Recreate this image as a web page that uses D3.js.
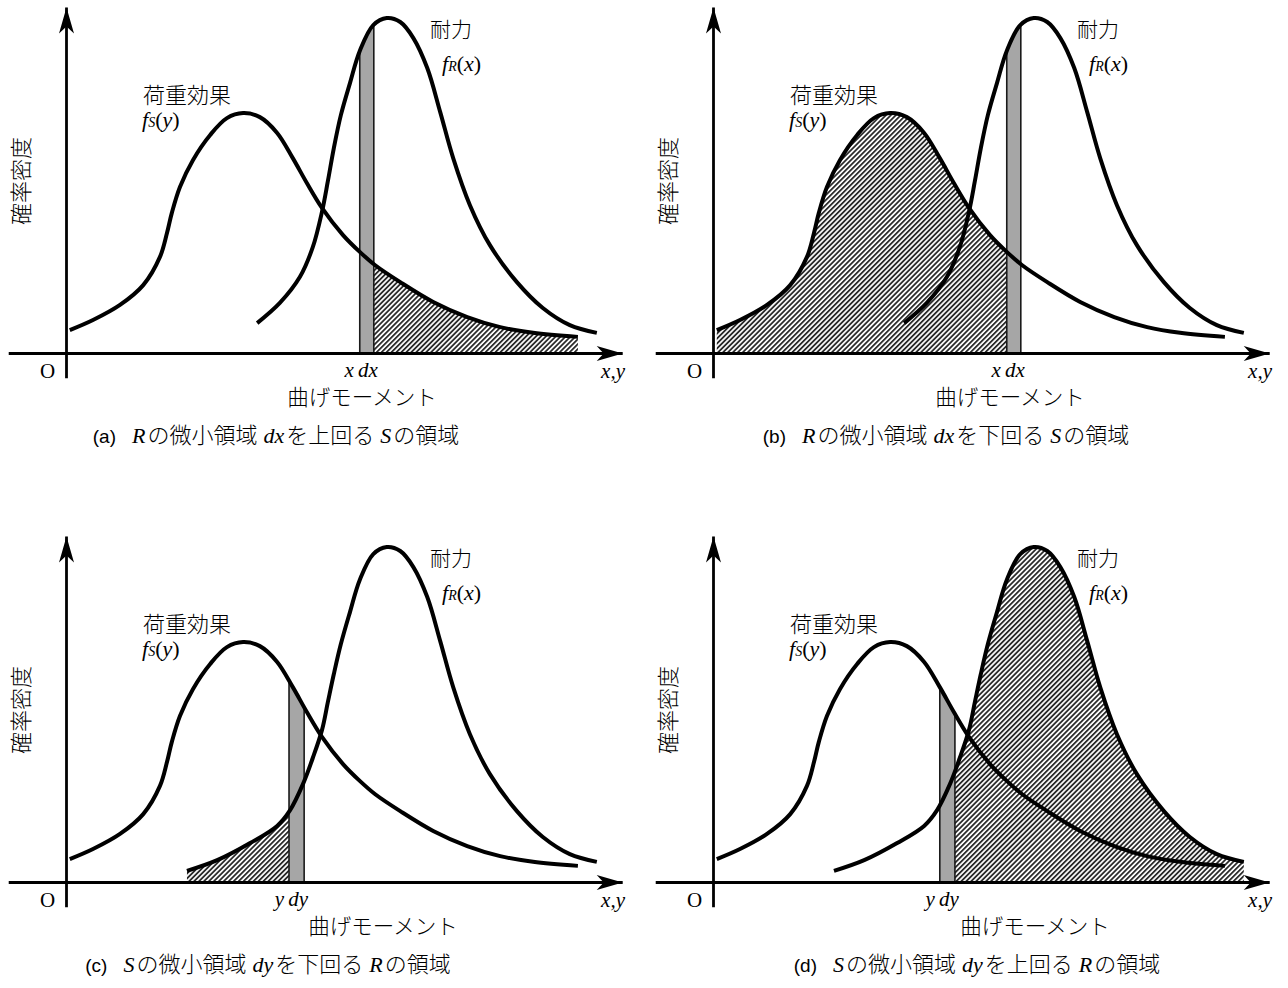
<!DOCTYPE html>
<html lang="ja">
<head>
<meta charset="utf-8">
<style>
  body { margin: 0; background: #fff; }
  svg { display: block; }
  .jp { font-family: 'Noto Sans CJK JP', sans-serif; font-weight: 300; }
  .lat { font-family: 'Liberation Serif', 'DejaVu Serif', serif; }
  .it { font-style: italic; }
</style>
</head>
<body>
<div id="chart"></div>
<script src="https://cdn.jsdelivr.net/npm/d3@7/dist/d3.min.js"></script>
<script>
// 荷重効果 fS(y) (横: 曲げモーメント 0-100, 縦: 確率密度 0-100)
const fsX = [0.7, 5.0, 10.0, 14.3, 17.4, 18.7, 19.6, 21.1, 23.5, 26.7, 29.8, 32.8, 35.9,
             39.1, 42.0, 44.6, 47.4, 51.3, 54.4, 57.2, 61.9, 68.0, 74.3, 80.4, 86.5, 94.8];
const fsY = [6.8, 9.8, 14.3, 20.2, 28.6, 35.7, 41.7, 49.4, 57.4, 64.9, 69.9, 71.4, 70.2,
             65.5, 58.0, 50.6, 43.2, 35.1, 30.1, 26.2, 21.1, 15.2, 10.7, 7.7, 6.0, 4.8];

// 耐力 fR(x) : (a)(b) の曲線
const frX = [35.4, 39.6, 43.3, 45.7, 47.4, 48.5, 49.6, 50.9, 52.6, 54.4, 56.9, 59.4,
             61.9, 64.3, 66.9, 69.3, 71.7, 74.8, 78.5, 83.5, 88.3, 93.3, 98.3];
const frY = [8.9, 14.9, 22.6, 31.5, 42.0, 51.2, 61.0, 70.8, 80.4, 89.9, 97.6, 99.7,
             98.5, 93.8, 84.8, 71.7, 58.0, 44.0, 32.1, 21.1, 13.4, 8.3, 6.0];

// 耐力 fR(x) : (c)(d) の曲線 (左の裾が長い)
const frLongX = [22.4, 28.0, 34.1, 39.1, 41.5, 43.9, 45.7, 47.4, 48.5, 49.6, 50.9, 52.6,
                 54.4, 56.9, 59.4, 61.9, 64.3, 66.9, 69.3, 71.7, 74.8, 78.5, 83.5, 88.3, 93.3, 98.3];
const frLongY = [3.3, 6.5, 11.6, 16.7, 21.4, 29.2, 36.9, 45.2, 53.6, 61.9, 70.8, 80.4,
                 89.9, 97.6, 99.7, 98.5, 93.8, 84.8, 71.7, 58.0, 44.0, 32.1, 21.1, 13.4, 8.3, 6.0];

// 微小領域と斜線部
const stripFrom = [54.4, 54.4, 41.3, 42.0];
const stripTo   = [57.0, 57.0, 44.1, 44.8];
const hatchFrom = [57.0, 0, 0, 44.8];
const hatchTo   = [100, 54.4, 41.3, 100];
const stripCurve = ['R', 'R', 'S', 'S'];
const hatchCurve = ['S', 'S', 'R', 'R'];

// 文字
const markVar = ['x', 'x', 'y', 'y'];
const markDiff = ['dx', 'dx', 'dy', 'dy'];
const captionTag = ['(a)', '(b)', '(c)', '(d)'];
const captionVar = ['R', 'R', 'S', 'S'];
const captionVerb = ['を上回る', 'を下回る', 'を下回る', 'を上回る'];
const captionOther = ['S', 'S', 'R', 'R'];

const W = 1288, H = 988;
const origins = [[66, 353], [713, 353], [66, 882], [713, 882]];
const xLabelCenter = [296, 297, 317, 322];
const captionCenter = [276, 946, 268, 977];

const svg = d3.select('#chart').append('svg')
    .attr('width', W).attr('height', H)
    .attr('viewBox', `0 0 ${W} ${H}`);

const x = d3.scaleLinear().domain([0, 100]).range([0, 540]);
const y = d3.scaleLinear().domain([0, 100]).range([0, -336]);

const defs = svg.append('defs');
const hatch = defs.append('pattern')
    .attr('id', 'hatch')
    .attr('patternUnits', 'userSpaceOnUse')
    .attr('width', 3.5).attr('height', 3.5)
    .attr('patternTransform', 'rotate(45)');
hatch.append('rect').attr('width', 3.5).attr('height', 3.5).attr('fill', '#fff');
hatch.append('rect').attr('width', 1.8).attr('height', 3.5).attr('fill', '#2a2a2a');

defs.append('marker')
    .attr('id', 'arrow')
    .attr('viewBox', '-27 -9 28 18')
    .attr('refX', 0).attr('refY', 0)
    .attr('markerWidth', 28).attr('markerHeight', 18)
    .attr('markerUnits', 'userSpaceOnUse')
    .attr('orient', 'auto')
    .append('path')
    .attr('d', 'M0,0 L-26,-7.5 L-19,0 L-26,7.5 Z')
    .attr('fill', '#000');

const line = d3.line().x(d => x(d[0])).y(d => y(d[1])).curve(d3.curveCatmullRom);
const area = d3.area().x(d => x(d[0])).y0(y(0)).y1(d => y(d[1])).curve(d3.curveCatmullRom);

const fsData = fsX.map((v, i) => [v, fsY[i]]);
const frData = frX.map((v, i) => [v, frY[i]]);
const frLongData = frLongX.map((v, i) => [v, frLongY[i]]);

origins.forEach((o, p) => {
    const curves = { S: fsData, R: p < 2 ? frData : frLongData };

    // 曲線の下の領域 (クリップ用)
    ['S', 'R'].forEach(k => {
        defs.append('clipPath').attr('id', `under-${k}-${p}`)
            .append('path').attr('d', area(curves[k]))
            .attr('transform', `translate(${o[0]},${o[1]})`);
    });

    // 斜線部
    svg.append('rect')
        .attr('x', x(hatchFrom[p]) + o[0]).attr('y', y(105) + o[1])
        .attr('width', x(hatchTo[p]) - x(hatchFrom[p])).attr('height', -y(105))
        .attr('fill', 'url(#hatch)')
        .attr('clip-path', `url(#under-${hatchCurve[p]}-${p})`);

    // 微小領域
    svg.append('rect')
        .attr('x', x(stripFrom[p]) + o[0]).attr('y', y(105) + o[1])
        .attr('width', x(stripTo[p]) - x(stripFrom[p])).attr('height', -y(105))
        .attr('fill', '#a6a6a6').attr('stroke', '#1a1a1a').attr('stroke-width', 1.6)
        .attr('clip-path', `url(#under-${stripCurve[p]}-${p})`);

    const g = svg.append('g').attr('transform', `translate(${o[0]},${o[1]})`);

    // 曲線
    ['S', 'R'].forEach(k => {
        g.append('path').attr('d', line(curves[k]))
            .attr('fill', 'none').attr('stroke', '#000').attr('stroke-width', 4);
    });

    // 軸
    const xAx = d3.scaleLinear().domain([-10.7, 103]).range([x(-10.7), x(103)]);
    const yAx = d3.scaleLinear().domain([-7.4, 103]).range([y(-7.4), y(103)]);
    g.append('g').call(d3.axisBottom(xAx).tickValues([]).tickSizeOuter(0))
        .select('.domain').attr('stroke-width', 2.8).attr('marker-end', 'url(#arrow)');
    g.append('g').call(d3.axisLeft(yAx).tickValues([]).tickSizeOuter(0))
        .select('.domain').attr('stroke-width', 2.8).attr('marker-end', 'url(#arrow)');

    // ラベル
    g.append('text').attr('class', 'jp').attr('x', 77).attr('y', -250)
        .style('font-size', '22px').text('荷重効果');
    const fsL = g.append('text').attr('class', 'lat').attr('x', 76).attr('y', -226)
        .style('font-size', '22px');
    fsL.append('tspan').attr('class', 'it').text('f');
    fsL.append('tspan').attr('class', 'it').style('font-size', '14px').text('S');
    fsL.append('tspan').text('(');
    fsL.append('tspan').attr('class', 'it').text('y');
    fsL.append('tspan').text(')');

    g.append('text').attr('class', 'jp').attr('x', 364).attr('y', -316)
        .style('font-size', '21px').text('耐力');
    const frL = g.append('text').attr('class', 'lat').attr('x', 376).attr('y', -282)
        .style('font-size', '22px');
    frL.append('tspan').attr('class', 'it').text('f');
    frL.append('tspan').attr('class', 'it').style('font-size', '14px').text('R');
    frL.append('tspan').text('(');
    frL.append('tspan').attr('class', 'it').text('x');
    frL.append('tspan').text(')');

    g.append('text').attr('class', 'jp')
        .attr('transform', 'translate(-45,-172) rotate(-90)')
        .attr('text-anchor', 'middle').attr('dy', '0.35em')
        .style('font-size', '22px').text('確率密度');

    g.append('text').attr('class', 'lat').attr('x', -18.5).attr('y', 25)
        .attr('text-anchor', 'middle').style('font-size', '21px').text('O');

    g.append('text').attr('class', 'lat it')
        .attr('x', x(stripTo[p]) + 4).attr('y', 24)
        .attr('text-anchor', 'end').style('font-size', '21px')
        .text(markVar[p] + '\u2009' + markDiff[p]);

    g.append('text').attr('class', 'lat it').attr('x', 559).attr('y', 25)
        .attr('text-anchor', 'end').style('font-size', '21px').text('x,y');

    g.append('text').attr('class', 'jp').attr('x', xLabelCenter[p]).attr('y', 52)
        .attr('text-anchor', 'middle').style('font-size', '21.5px').text('曲げモーメント');

    // 見出し
    const cap = svg.append('text').attr('x', captionCenter[p]).attr('y', o[1] + 90)
        .attr('text-anchor', 'middle').style('font-size', '22px');
    cap.append('tspan').style('font-family', "'Liberation Sans', sans-serif")
        .style('font-size', '19px').text(captionTag[p]);
    cap.append('tspan').attr('class', 'lat it').attr('dx', 16).text(captionVar[p]);
    cap.append('tspan').attr('class', 'jp').attr('dx', 2).text('の微小領域');
    cap.append('tspan').attr('class', 'lat it').attr('dx', 6).text(markDiff[p]);
    cap.append('tspan').attr('class', 'jp').attr('dx', 2).text(captionVerb[p]);
    cap.append('tspan').attr('class', 'lat it').attr('dx', 6).text(captionOther[p]);
    cap.append('tspan').attr('class', 'jp').attr('dx', 2).text('の領域');
});
</script>
</body>
</html>
